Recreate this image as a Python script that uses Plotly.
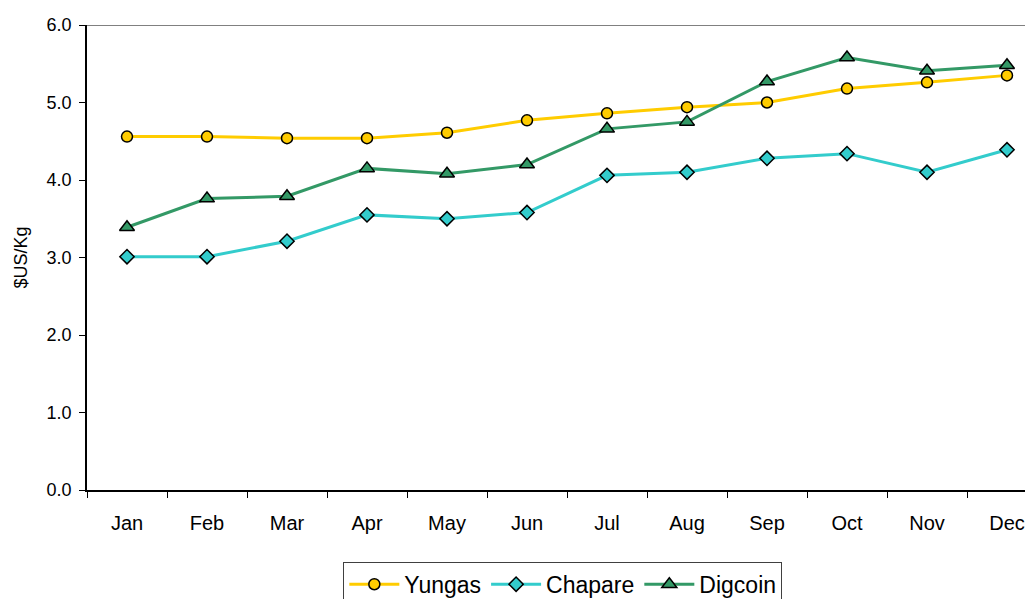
import plotly.graph_objects as go

months = ["Jan", "Feb", "Mar", "Apr", "May", "Jun", "Jul", "Aug", "Sep", "Oct", "Nov", "Dec"]
yungas = [4.56, 4.56, 4.54, 4.54, 4.61, 4.77, 4.86, 4.94, 5.00, 5.18, 5.26, 5.35]
chapare = [3.01, 3.01, 3.21, 3.55, 3.50, 3.58, 4.06, 4.10, 4.28, 4.34, 4.10, 4.39]
digcoin = [3.39, 3.76, 3.79, 4.15, 4.08, 4.20, 4.66, 4.75, 5.27, 5.58, 5.41, 5.48]

series = [
    ("Yungas", yungas, "#FFCC00", "circle", 11),
    ("Chapare", chapare, "#33CCCC", "diamond", 11),
    ("Digcoin", digcoin, "#339966", "triangle-up", 13),
]

fig = go.Figure()
for name, vals, color, symbol, size in series:
    fig.add_trace(go.Scatter(
        x=months, y=vals, name=name, mode="lines+markers",
        line=dict(color=color, width=3),
        marker=dict(symbol=symbol, size=size, color=color,
                    line=dict(color="black", width=1.5)),
    ))

# grey top border of the plot area
fig.add_shape(type="line", xref="paper", yref="y", x0=0, x1=1, y0=6, y1=6,
              line=dict(color="#808080", width=2))

# page body has an 8px margin, so the figure is shifted by 8px
fig.update_layout(
    width=1025, height=591,
    margin=dict(l=79, r=0, t=17, b=109, autoexpand=False),
    paper_bgcolor="white", plot_bgcolor="white",
    font=dict(family="Liberation Sans, Arial, sans-serif", color="black"),
    showlegend=True,
    legend=dict(
        orientation="h", xref="paper", x=0.503, xanchor="center",
        yref="container", y=0.063, yanchor="top",
        bordercolor="#404040", borderwidth=1,
        font=dict(size=23), itemwidth=50, tracegroupgap=0,
    ),
    xaxis=dict(
        type="category", range=[-0.5, 11.325],
        tickson="boundaries", ticks="outside", ticklen=6, tickcolor="black",
        showline=True, linecolor="black", linewidth=1.5,
        showgrid=False, zeroline=False,
        tickfont=dict(size=20), ticklabelstandoff=14,
    ),
    yaxis=dict(
        range=[0, 6], dtick=1, tickformat=".1f",
        ticks="outside", ticklen=6, tickcolor="black",
        showline=True, linecolor="black", linewidth=1.5,
        showgrid=False, zeroline=False,
        tickfont=dict(size=18), ticklabelstandoff=4,
        title=dict(text="$US/Kg", font=dict(size=18), standoff=14),
    ),
)

fig.write_html("out.html")
